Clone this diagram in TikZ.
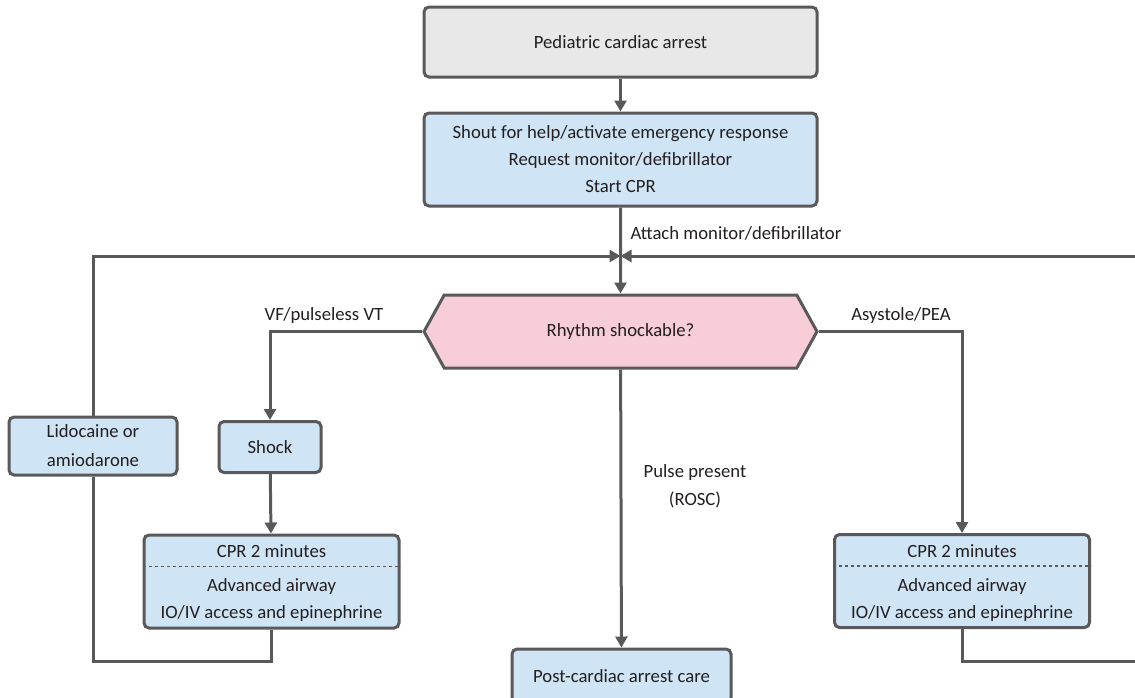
\documentclass[tikz,border=0pt]{standalone}
\usepackage{fontspec}
\setmainfont{Carlito}
\usetikzlibrary{arrows.meta,shapes.symbols}

\definecolor{edgegray}{HTML}{59595B}
\definecolor{boxblue}{HTML}{CFE4F5}
\definecolor{boxgray}{HTML}{E8E8E9}
\definecolor{boxpink}{HTML}{F7CDD7}
\definecolor{inkdark}{HTML}{231F20}

\tikzset{
  stepbox/.style={draw=edgegray, line width=3pt, rounded corners=5pt,
    fill=boxblue, align=center, text=inkdark, inner sep=2pt,
    font=\fontsize{18.7}{27}\selectfont},
  decide/.style={signal, signal to=west and east, signal from=nowhere,
    signal pointer angle=122, draw=edgegray, line width=3pt, fill=boxpink,
    text=inkdark, font=\fontsize{18.7}{27}\selectfont},
  flow/.style={draw=edgegray, line width=3pt,
    -{Triangle[length=11pt,width=12pt]}},
  link/.style={draw=edgegray, line width=3pt},
  lbl/.style={text=inkdark, font=\fontsize{18.7}{27}\selectfont, align=center}
}

\begin{document}
\begin{tikzpicture}[x=1pt,y=-1pt]
  \useasboundingbox (0,0) rectangle (1135,697);
  \clip (0,0) rectangle (1135,697);

  % boxes of the algorithm
  \node[stepbox, fill=boxgray, minimum width=393pt, minimum height=70pt] (start) at (620.5,42) {Pediatric cardiac arrest};
  \node[stepbox, minimum width=393pt, minimum height=93pt] (act) at (620.5,159.5)
    {Shout for help/activate emergency response\\Request monitor/defibrillator\\Start CPR};
  \node[decide, minimum width=393pt, minimum height=73pt] (rhythm) at (620.5,331.5) {Rhythm shockable?};
  \node[stepbox, minimum width=102pt, minimum height=51pt] (shock) at (270,447) {Shock};
  \node[stepbox, minimum width=168pt, minimum height=58pt, font=\fontsize{18.7}{29}\selectfont] (lido) at (93,446) {Lidocaine or\\amiodarone};
  \node[stepbox, minimum width=255pt, minimum height=93pt] (cprL) at (271.5,581.5) {};
  \node[stepbox, minimum width=255pt, minimum height=93pt] (cprR) at (962,581) {};
  \node[stepbox, minimum width=219pt, minimum height=54pt] (post) at (621.5,676) {Post-cardiac arrest care};

  % texts inside the CPR boxes
  \node[lbl] (cprLtop) at (271.5,551) {CPR 2 minutes};
  \node[lbl] (cprLbot) at (271.5,600) {Advanced airway\\IO/IV access and epinephrine};
  \node[lbl] (cprRtop) at (962,551) {CPR 2 minutes};
  \node[lbl] (cprRbot) at (962,600) {Advanced airway\\IO/IV access and epinephrine};
  \draw[edgegray, line width=1.3pt, dash pattern=on 3pt off 3pt]
    ([yshift=-33pt]cprL.north west) -- ([yshift=-33pt]cprL.north east);
  \draw[edgegray, line width=1.3pt, dash pattern=on 3pt off 3pt]
    ([yshift=-33pt]cprR.north west) -- ([yshift=-33pt]cprR.north east);

  % join point and loop corners
  \coordinate (j) at (620.5,256);
  \coordinate (rL) at (1150,661);
  \coordinate (rU) at (1150,256);

  % connectors
  \draw[flow] (start) -- (act);
  \draw[flow] (act) -- (rhythm);
  \node[lbl, anchor=west] (attach) at (627,233) {Attach monitor/defibrillator};
  \draw[flow] (rhythm.west) -| (shock.north);
  \node[lbl] (vf) at (324,316) {VF/pulseless VT};
  \draw[flow] (rhythm.east) -| (cprR.north);
  \node[lbl] (asy) at (901,316) {Asystole/PEA};
  \draw[flow] (shock) -- (cprL);
  \draw[flow] (rhythm) -- (post);
  \node[lbl, font=\fontsize{18.7}{28}\selectfont] (rosc) at (695,486) {Pulse present\\(ROSC)};
  \draw[link] (cprL.south) |- (lido.south |- rL) -- (lido.south);
  \draw[flow] (lido.north) |- (j);
  \draw[link] (cprR.south) |- (rL) -- (rU);
  \draw[flow] (rU) -- (j);

\end{tikzpicture}
\end{document}
